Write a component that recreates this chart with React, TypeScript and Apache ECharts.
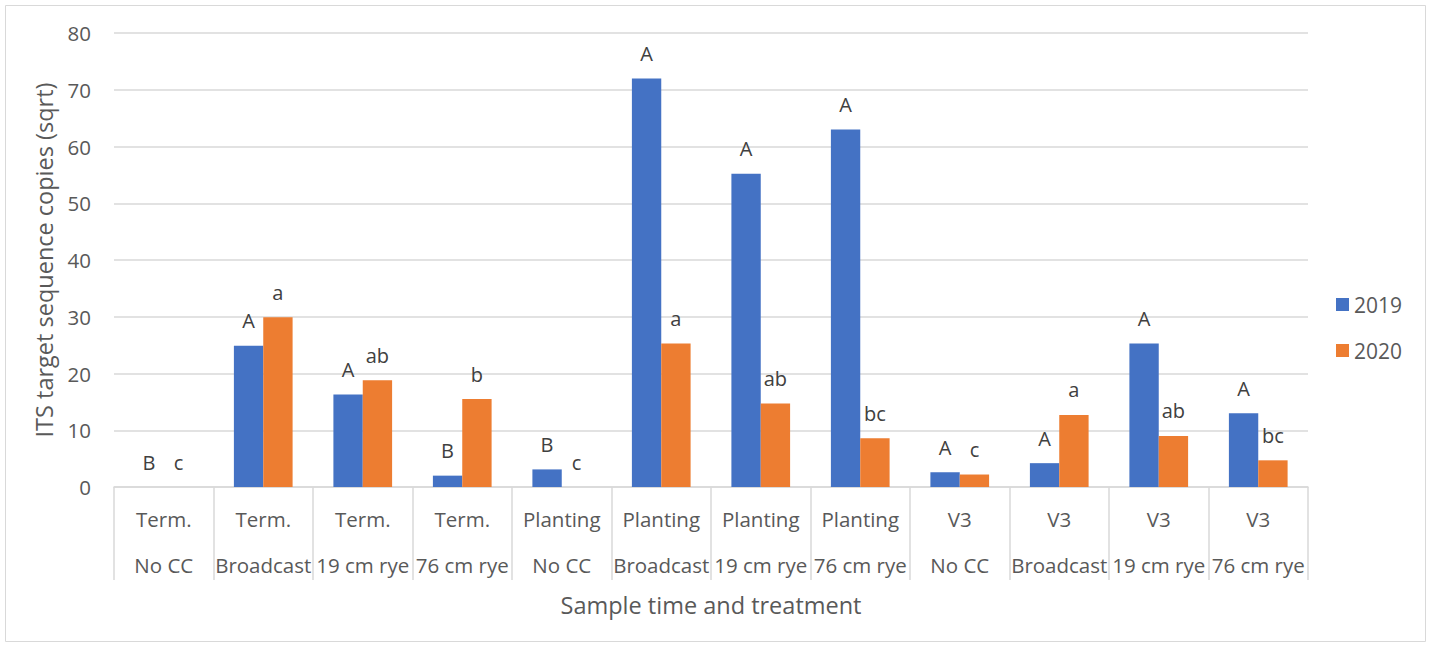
import React, { useEffect, useRef } from "react";
import * as echarts from "echarts";

const times = ["Term.", "Term.", "Term.", "Term.", "Planting", "Planting", "Planting", "Planting", "V3", "V3", "V3", "V3"];
const treatments = ["No CC", "Broadcast", "19 cm rye", "76 cm rye", "No CC", "Broadcast", "19 cm rye", "76 cm rye", "No CC", "Broadcast", "19 cm rye", "76 cm rye"];
const values2019 = [0, 24.9, 16.3, 2.0, 3.1, 72.0, 55.2, 63.0, 2.6, 4.2, 25.3, 13.0];
const values2020 = [0, 29.9, 18.8, 15.5, 0, 25.3, 14.7, 8.6, 2.2, 12.7, 9.0, 4.7];
const letters2019 = ["B", "A", "A", "B", "B", "A", "A", "A", "A", "A", "A", "A"];
const letters2020 = ["c", "a", "ab", "b", "c", "a", "ab", "bc", "c", "a", "ab", "bc"];
const yTicks = [0, 10, 20, 30, 40, 50, 60, 70, 80];

const FONT = "Open Sans";

export default function App() {
  const ref = useRef<HTMLDivElement>(null);
  useEffect(() => {
    if (!ref.current) return;
    const chart = echarts.init(ref.current, undefined, { renderer: "svg" });
    const categories = times.map((t, i) => t + "\n" + treatments[i]);
    const labelStyle = (letters: string[]) => ({
      show: true,
      position: "top" as const,
      distance: 15,
      fontFamily: FONT,
      fontSize: 20,
      color: "#404040",
      formatter: (p: any) => letters[p.dataIndex],
    });
    chart.setOption({
      animation: false,
      textStyle: { fontFamily: FONT },
      graphic: [
        {
          type: "rect",
          shape: { x: 5.5, y: 5.5, width: 1420, height: 636 },
          style: { fill: "none", stroke: "#d9d9d9", lineWidth: 1 },
          silent: true,
        },
      ],
      grid: { left: 114, right: 125, top: 33, bottom: 160 },
      legend: {
        orient: "vertical",
        left: 1331,
        top: 289,
        itemWidth: 13,
        itemHeight: 13,
        itemGap: 25,
        icon: "rect",
        textStyle: { fontFamily: FONT, fontSize: 21, color: "#595959" },
        data: ["2019", "2020"],
      },
      xAxis: {
        type: "category",
        data: categories,
        name: "Sample time and treatment",
        nameLocation: "middle",
        nameGap: 104,
        nameTextStyle: { fontFamily: FONT, fontSize: 23.5, color: "#595959" },
        axisLine: { show: true, lineStyle: { color: "#d9d9d9", width: 1.5 } },
        axisTick: { show: true, length: 93, interval: 0, lineStyle: { color: "#d9d9d9", width: 1.5 } },
        axisLabel: {
          interval: 0,
          margin: 9,
          fontFamily: FONT,
          fontSize: 20.5,
          lineHeight: 46,
          color: "#595959",
        },
      },
      yAxis: {
        type: "value",
        min: 0,
        max: 80,
        interval: 10,
        name: "ITS target sequence copies (sqrt)",
        nameLocation: "middle",
        nameGap: 58,
        nameRotate: 90,
        nameTextStyle: { fontFamily: FONT, fontSize: 23.5, color: "#595959" },
        axisLine: { show: false },
        axisTick: { show: false },
        axisLabel: {
          margin: 23,
          fontFamily: FONT,
          fontSize: 20.5,
          color: "#595959",
          formatter: (v: number) => (yTicks.includes(v) ? String(v) : ""),
        },
        splitLine: { lineStyle: { color: "#d9d9d9", width: 1.5 } },
      },
      series: [
        {
          name: "2019",
          type: "bar",
          data: values2019,
          barGap: "0%",
          barCategoryGap: "41%",
          itemStyle: { color: "#4472C4" },
          label: labelStyle(letters2019),
        },
        {
          name: "2020",
          type: "bar",
          data: values2020,
          barGap: "0%",
          barCategoryGap: "41%",
          itemStyle: { color: "#ED7D31" },
          label: labelStyle(letters2020),
        },
      ],
    });
    return () => chart.dispose();
  }, []);
  return (
    <div
      ref={ref}
      style={{ position: "fixed", left: 0, top: 0, width: 1433, height: 647, background: "#fff" }}
    />
  );
}
